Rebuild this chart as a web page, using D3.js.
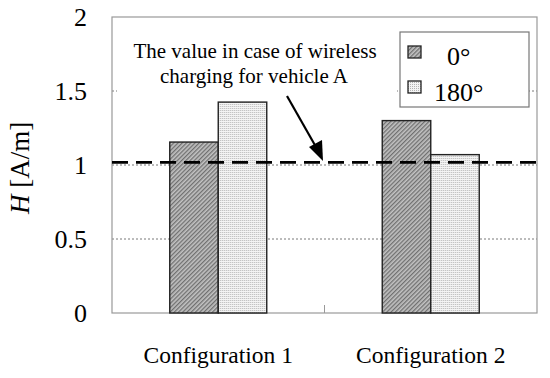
<!DOCTYPE html>
<html>
<head>
<meta charset="utf-8">
<script src="https://cdn.jsdelivr.net/npm/d3@7"></script>
<style>
  body { margin: 0; background: #fff; }
  svg text { font-family: "Liberation Serif", "Times New Roman", serif; fill: #000; }
</style>
</head>
<body>
<div class="container"></div>
<script>
var categories = ['Configuration 1', 'Configuration 2'];
var series = ['0°', '180°'];
var values0 = [1.155, 1.30];
var values180 = [1.425, 1.07];
var refValue = 1.018;
var yTicks = [0, 0.5, 1, 1.5, 2];
var gridTicks = [0.5, 1, 1.5];

var w = 550, h = 378;
var plotLeft = 112, plotRight = 537, plotTop = 17, plotBottom = 313;

var svg = d3.select('.container')
  .append('svg')
  .attr('width', w)
  .attr('height', h);

var defs = svg.append('defs');

// hatched fill for 0 deg
var hatch = defs.append('pattern')
  .attr('id', 'hatch')
  .attr('patternUnits', 'userSpaceOnUse')
  .attr('width', 3).attr('height', 3)
  .attr('patternTransform', 'rotate(45)');
hatch.append('rect').attr('width', 3).attr('height', 3).attr('fill', '#c2c2c2');
hatch.append('rect').attr('width', 1.3).attr('height', 3).attr('fill', '#707070');

// dotted fill for 180 deg
var dots = defs.append('pattern')
  .attr('id', 'dots')
  .attr('patternUnits', 'userSpaceOnUse')
  .attr('width', 2).attr('height', 2);
dots.append('rect').attr('width', 2).attr('height', 2).attr('fill', '#f4f4f4');
dots.append('rect').attr('width', 1).attr('height', 1).attr('fill', '#b4b4b4');

var fills = ['url(#hatch)', 'url(#dots)'];

var xScale = d3.scaleBand()
  .domain(categories)
  .range([plotLeft, plotRight]);

var yScale = d3.scaleLinear()
  .domain([0, 2])
  .range([plotBottom, plotTop]);

var barW = 48.5;
var xInner = d3.scaleBand()
  .domain(series)
  .range([-barW, barW]);

/* gridlines */
svg.append('g')
  .selectAll('line')
  .data(gridTicks)
  .enter()
  .append('line')
  .attr('x1', plotLeft).attr('x2', plotRight)
  .attr('y1', function(d) { return yScale(d); })
  .attr('y2', function(d) { return yScale(d); })
  .attr('stroke', '#555')
  .attr('stroke-width', 0.8)
  .attr('stroke-dasharray', '2,2');

/* plot frame */
svg.append('rect')
  .attr('x', plotLeft).attr('y', plotTop)
  .attr('width', plotRight - plotLeft).attr('height', plotBottom - plotTop)
  .attr('fill', 'none')
  .attr('stroke', '#999')
  .attr('stroke-width', 1.2);

// tick between categories on bottom axis
svg.append('line')
  .attr('x1', xScale(categories[1])).attr('x2', xScale(categories[1]))
  .attr('y1', plotBottom).attr('y2', plotBottom - 8)
  .attr('stroke', '#999');

/* annotation background hides gridline */
svg.append('rect')
  .attr('x', 117).attr('y', 38)
  .attr('width', 280).attr('height', 58)
  .attr('fill', '#fff');

/* bars */
var rows = categories.map(function(c, i) {
  return [{ cat: c, s: 0, v: values0[i] }, { cat: c, s: 1, v: values180[i] }];
});
var group = svg.selectAll('g.cat')
  .data(rows)
  .enter()
  .append('g')
  .attr('class', 'cat')
  .attr('transform', function(d, i) {
    return 'translate(' + (xScale(categories[i]) + xScale.bandwidth() / 2) + ',0)';
  });

group.selectAll('rect')
  .data(function(d) { return d; })
  .enter()
  .append('rect')
  .attr('x', function(d) { return xInner(series[d.s]); })
  .attr('width', xInner.bandwidth())
  .attr('y', function(d) { return yScale(d.v); })
  .attr('height', function(d) { return yScale(0) - yScale(d.v); })
  .attr('fill', function(d) { return fills[d.s]; })
  .attr('stroke', '#222')
  .attr('stroke-width', 1.4);

/* reference dashed line */
svg.append('line')
  .attr('x1', plotLeft).attr('x2', plotRight)
  .attr('y1', yScale(refValue)).attr('y2', yScale(refValue))
  .attr('stroke', '#000')
  .attr('stroke-width', 2.6)
  .attr('stroke-dasharray', '16,8');

/* y axis labels */
svg.append('g')
  .selectAll('text')
  .data(yTicks)
  .enter()
  .append('text')
  .attr('x', 87)
  .attr('y', function(d) { return yScale(d) + 9; })
  .attr('text-anchor', 'end')
  .style('font-size', '26px')
  .text(function(d) { return d; });

/* y axis title */
var yt = svg.append('text')
  .attr('transform', 'translate(29,' + ((plotTop + plotBottom) / 2 + 3) + ') rotate(-90)')
  .attr('text-anchor', 'middle')
  .style('font-size', '27px');
yt.append('tspan').style('font-style', 'italic').text('H');
yt.append('tspan').text(' [A/m]');

/* x axis labels */
svg.append('g')
  .selectAll('text')
  .data(categories)
  .enter()
  .append('text')
  .attr('x', function(d) { return xScale(d) + xScale.bandwidth() / 2; })
  .attr('y', 363)
  .attr('text-anchor', 'middle')
  .style('font-size', '23.5px')
  .text(function(d) { return d; });

/* annotation */
svg.append('text')
  .attr('x', 255).attr('y', 58)
  .attr('text-anchor', 'middle')
  .style('font-size', '21px')
  .text('The value in case of wireless');
svg.append('text')
  .attr('x', 254).attr('y', 83)
  .attr('text-anchor', 'middle')
  .style('font-size', '21px')
  .text('charging for vehicle A');

// arrow
svg.append('line')
  .attr('x1', 287).attr('y1', 96)
  .attr('x2', 316).attr('y2', 147)
  .attr('stroke', '#000')
  .attr('stroke-width', 2.2);
svg.append('path')
  .attr('d', 'M323,161 L309,147 L322,140 Z')
  .attr('fill', '#000');

/* legend */
svg.append('rect')
  .attr('x', 400).attr('y', 32)
  .attr('width', 129).attr('height', 75)
  .attr('fill', '#fff')
  .attr('stroke', '#777')
  .attr('stroke-width', 1.2);

var legend = svg.selectAll('g.leg')
  .data(series)
  .enter()
  .append('g')
  .attr('class', 'leg');
legend.append('rect')
  .attr('x', 408)
  .attr('y', function(d, i) { return 46 + i * 35; })
  .attr('width', 13).attr('height', 12)
  .attr('fill', function(d, i) { return fills[i]; })
  .attr('stroke', '#222')
  .attr('stroke-width', 1.3);
legend.append('text')
  .attr('x', function(d, i) { return i == 0 ? 447 : 434; })
  .attr('y', function(d, i) { return 65 + i * 36; })
  .style('font-size', '26px')
  .text(function(d) { return d; });
</script>
</body>
</html>
